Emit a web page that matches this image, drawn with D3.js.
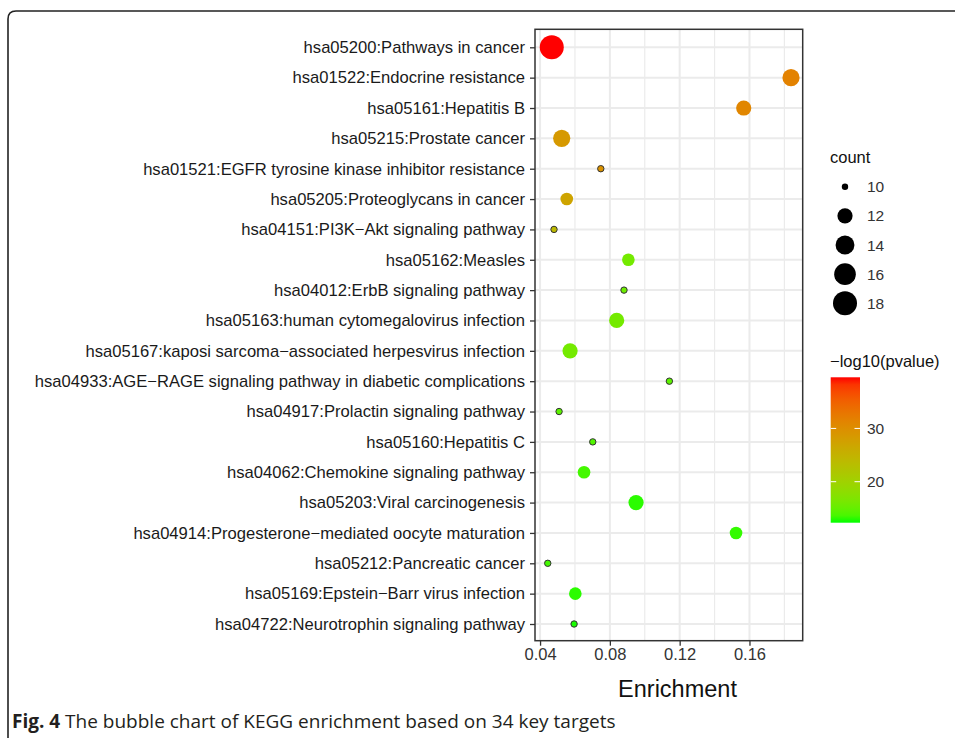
<!DOCTYPE html>
<html>
<head>
<meta charset="utf-8">
<script src="https://cdn.jsdelivr.net/npm/d3@7"></script>
<style>
html,body{margin:0;padding:0;background:#fff;}
svg{display:block;}
</style>
</head>
<body>
<svg id="chart" width="955" height="738"></svg>
<script>
// ---- data ----
const categories = [
  "hsa05200:Pathways in cancer",
  "hsa01522:Endocrine resistance",
  "hsa05161:Hepatitis B",
  "hsa05215:Prostate cancer",
  "hsa01521:EGFR tyrosine kinase inhibitor resistance",
  "hsa05205:Proteoglycans in cancer",
  "hsa04151:PI3K\u2212Akt signaling pathway",
  "hsa05162:Measles",
  "hsa04012:ErbB signaling pathway",
  "hsa05163:human cytomegalovirus infection",
  "hsa05167:kaposi sarcoma\u2212associated herpesvirus infection",
  "hsa04933:AGE\u2212RAGE signaling pathway in diabetic complications",
  "hsa04917:Prolactin signaling pathway",
  "hsa05160:Hepatitis C",
  "hsa04062:Chemokine signaling pathway",
  "hsa05203:Viral carcinogenesis",
  "hsa04914:Progesterone\u2212mediated oocyte maturation",
  "hsa05212:Pancreatic cancer",
  "hsa05169:Epstein\u2212Barr virus infection",
  "hsa04722:Neurotrophin signaling pathway"
];
const enrichment = [0.0467,0.1838,0.1567,0.0524,0.0748,0.0553,0.0480,0.0906,0.0881,0.0839,
                    0.0572,0.1141,0.0509,0.0702,0.0652,0.0950,0.1523,0.0444,0.0602,0.0595];
const counts = [18,13,12,13,10,11,10,11,10,12,12,10,10,10,11,12,11,10,11,10];
const negLogP = [39.6,31.5,31.0,28.5,29.5,27.0,24.0,16.0,15.5,16.0,16.0,14.5,14.5,14.0,13.5,12.8,13.0,13.5,12.8,12.5];
const xTicks = [0.04,0.08,0.12,0.16];
const xMinorTicks = [0.06,0.10,0.14,0.18];
const sizeLegend = [10,12,14,16,18];
const colorTicks = [20,30];

// ---- layout ----
const svg = d3.select("#chart");
const P = {l:535, r:802.7, t:29.3, b:640.7};
const x = d3.scaleLinear().domain([0.0371,0.1905]).range([P.l,P.r]);
const y = d3.scalePoint().domain(categories).range([47.3,624]);
const cMin = 12.3, cMax = 39.6;
const color = d3.scaleLinear().domain([cMin,cMax]).range(["#00ff00","#ff0000"]).interpolate(d3.interpolateLab);
const sizeNorm = d3.scaleLinear().domain([10,18]).range([0,1]).clamp(true);
const radiusLin = d3.scaleLinear().domain([0,1]).range([3.2,12]);
const r = c => radiusLin(Math.sqrt(sizeNorm(c)));
const lf = "'Liberation Sans', Arial, sans-serif";

// outer frame
svg.append("path")
  .attr("d","M8,760 L8,19 Q8,11 16,11 L970,11")
  .attr("fill","none").attr("stroke","#222").attr("stroke-width",1.6);

// panel background
svg.append("rect").attr("x",P.l).attr("y",P.t).attr("width",P.r-P.l).attr("height",P.b-P.t).attr("fill","#fff");

// grid
const g = svg.append("g");
g.selectAll(".vminor").data(xMinorTicks).join("line")
  .attr("x1",d=>x(d)).attr("x2",d=>x(d)).attr("y1",P.t).attr("y2",P.b)
  .attr("stroke","#ebebeb").attr("stroke-width",1.2);
g.selectAll(".vmajor").data(xTicks).join("line")
  .attr("x1",d=>x(d)).attr("x2",d=>x(d)).attr("y1",P.t).attr("y2",P.b)
  .attr("stroke","#ebebeb").attr("stroke-width",2);
g.selectAll(".hmajor").data(categories).join("line")
  .attr("x1",P.l).attr("x2",P.r).attr("y1",d=>y(d)).attr("y2",d=>y(d))
  .attr("stroke","#ebebeb").attr("stroke-width",2);

// points
const data = categories.map((c,i)=>({cat:c, x:enrichment[i], n:counts[i], p:negLogP[i]}));
svg.append("g").selectAll("circle").data(data).join("circle")
  .attr("cx",d=>x(d.x)).attr("cy",d=>y(d.cat)).attr("r",d=>r(d.n))
  .attr("fill",d=>color(d.p))
  .attr("stroke",d=>d.n<=10?"#333":"none").attr("stroke-width",1);

// panel border
svg.append("rect").attr("x",P.l).attr("y",P.t).attr("width",P.r-P.l).attr("height",P.b-P.t)
  .attr("fill","none").attr("stroke","#333").attr("stroke-width",1.5);

// axes
const yAxis = d3.axisLeft(y).tickSize(5).tickPadding(5);
const ya = svg.append("g").attr("transform",`translate(${P.l},0)`).call(yAxis);
ya.select(".domain").remove();
ya.selectAll("line").attr("stroke","#333").attr("stroke-width",1.3);
ya.selectAll("text").attr("font-family",lf).attr("font-size","16.6px").attr("fill","#1a1a1a");

const xAxis = d3.axisBottom(x).tickValues(xTicks).tickFormat(d3.format(".2f")).tickSize(5).tickPadding(3);
const xa = svg.append("g").attr("transform",`translate(0,${P.b})`).call(xAxis);
xa.select(".domain").remove();
xa.selectAll("line").attr("stroke","#333").attr("stroke-width",1.3);
xa.selectAll("text").attr("font-family",lf).attr("font-size","16.5px").attr("fill","#333");

svg.append("text").attr("x",677.5).attr("y",697).attr("text-anchor","middle")
  .attr("font-family",lf).attr("font-size","23.5px").attr("fill","#111")
  .text("Enrichment");

// size legend
svg.append("text").attr("x",830).attr("y",163).attr("font-family",lf).attr("font-size","16.5px").attr("fill","#111").text("count");
const keyY = d3.scalePoint().domain(sizeLegend).range([186.7,303.3]);
const sl = svg.append("g");
sl.selectAll("circle").data(sizeLegend).join("circle")
  .attr("cx",845).attr("cy",d=>keyY(d)).attr("r",d=>r(d)).attr("fill","#000");
sl.selectAll("text").data(sizeLegend).join("text")
  .attr("x",867).attr("y",d=>keyY(d)+5.5).attr("font-family",lf).attr("font-size","15.5px").attr("fill","#333").text(d=>d);

// color legend
svg.append("text").attr("x",830).attr("y",367).attr("font-family",lf).attr("font-size","16.5px").attr("fill","#111").text("\u2212log10(pvalue)");
const cb = {x:830.7, w:29.3, t:377.3, b:522.7};
const cy = d3.scaleLinear().domain([cMin,cMax]).range([cb.b,cb.t]);
const defs = svg.append("defs");
const grad = defs.append("linearGradient").attr("id","cgrad").attr("x1",0).attr("y1",1).attr("x2",0).attr("y2",0);
d3.range(0,1.0001,0.05).forEach(t=>{
  grad.append("stop").attr("offset",t).attr("stop-color",color(cMin+t*(cMax-cMin)));
});
svg.append("rect").attr("x",cb.x).attr("y",cb.t).attr("width",cb.w).attr("height",cb.b-cb.t).attr("fill","url(#cgrad)");
const ct = svg.append("g");
ct.selectAll(".tl").data(colorTicks).join("line").attr("x1",cb.x).attr("x2",cb.x+5.5).attr("y1",d=>cy(d)).attr("y2",d=>cy(d)).attr("stroke","#fff").attr("stroke-width",1);
ct.selectAll(".tr").data(colorTicks).join("line").attr("x1",cb.x+cb.w-5.5).attr("x2",cb.x+cb.w).attr("y1",d=>cy(d)).attr("y2",d=>cy(d)).attr("stroke","#fff").attr("stroke-width",1);
ct.selectAll("text").data(colorTicks).join("text").attr("x",867).attr("y",d=>cy(d)+5.5)
  .attr("font-family",lf).attr("font-size","15.5px").attr("fill","#333").text(d=>d);

// caption
const cap = svg.append("text").attr("x",12).attr("y",728).attr("font-family","'Open Sans', 'Noto Sans', sans-serif").attr("font-size","19px").attr("fill","#231f20");
cap.append("tspan").attr("font-weight","bold").text("Fig. 4");
cap.append("tspan").text(" The bubble chart of KEGG enrichment based on 34 key targets");
</script>
</body>
</html>
